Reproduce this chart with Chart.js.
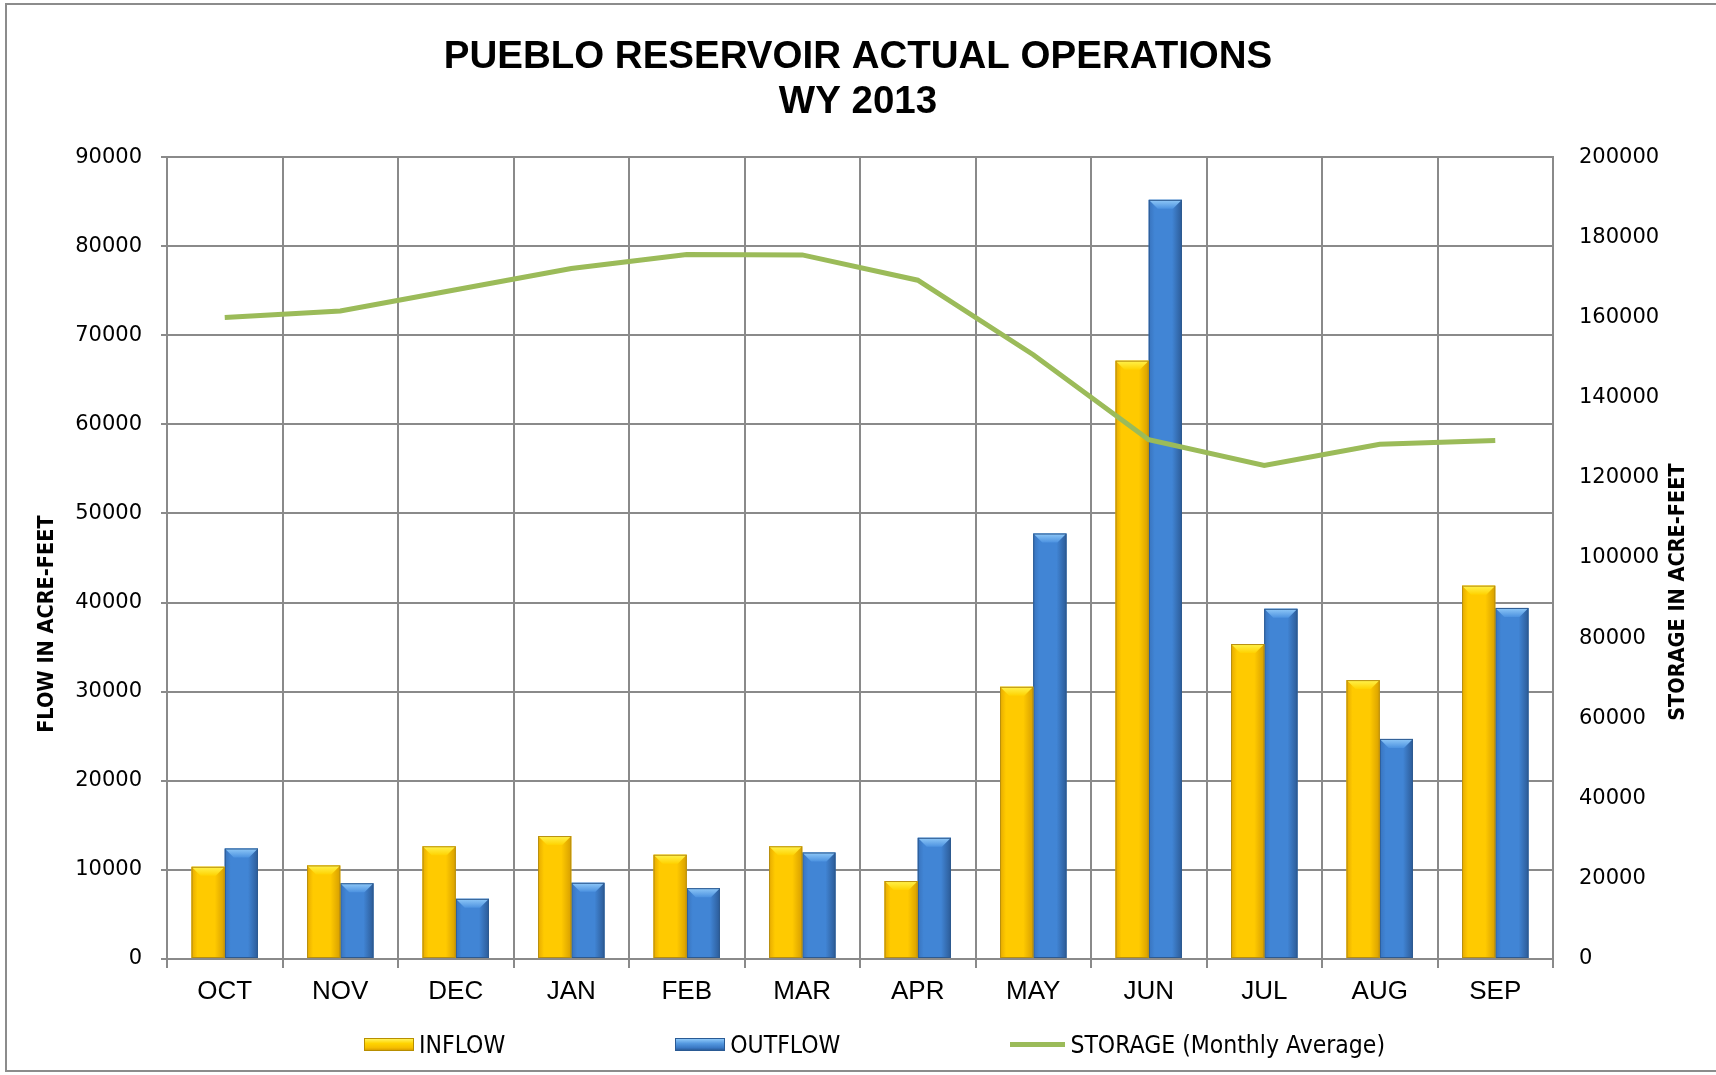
<!DOCTYPE html>
<html>
<head>
<meta charset="utf-8">
<title>Pueblo Reservoir Actual Operations WY 2013</title>
<script src="https://cdn.jsdelivr.net/npm/chart.js@4.4.1/dist/chart.umd.min.js"></script>
<style>
  html, body { margin: 0; padding: 0; background: #fff; }
  #wrap { position: relative; width: 1716px; height: 1075px; overflow: hidden; }
  #frame {
    position: absolute; left: 5px; top: 3px; width: 1730px; height: 1069px;
    border: 2px solid #8c8c8c; box-sizing: border-box; pointer-events: none;
  }
  #ops-chart { position: absolute; left: 0; top: 0; }
  #legend {
    position: absolute; left: 364px; top: 1030px; display: flex; align-items: center;
    font-family: 'Liberation Sans Narrow', 'DejaVu Sans Condensed', sans-serif;
    font-size: 24.5px; color: #000;
  }
  .legend-item { display: flex; align-items: center; margin-right: 170px; }
  .swatch { width: 50px; height: 13px; margin-right: 5px; box-sizing: border-box; }
  .swatch.inflow {
    border: 1px solid #b78e00;
    background: linear-gradient(to bottom, #fff25a 0%, #ffd400 40%, #f5bd00 80%, #d9a000 100%);
  }
  .swatch.outflow {
    border: 1px solid #2a5a94;
    background: linear-gradient(to bottom, #8ec8f8 0%, #5599e0 40%, #3a78c4 80%, #2b5d9a 100%);
  }
  .swatch.storage { width: 55px; height: 5px; background: #9bbb59; }
</style>
</head>
<body>
<div id="wrap">
  <canvas id="ops-chart" width="1716" height="1075"></canvas>
  <div id="frame"></div>
  <div id="legend"></div>
</div>
<script>
const months = ['OCT', 'NOV', 'DEC', 'JAN', 'FEB', 'MAR', 'APR', 'MAY', 'JUN', 'JUL', 'AUG', 'SEP'];

// acre-feet per month
const inflow = [10350, 10500, 12650, 13800, 11700, 12650, 8750, 30550, 67150, 35350, 31300, 41900];
const outflow = [12400, 8500, 6750, 8550, 7950, 11950, 13600, 47750, 85200, 39300, 24700, 39400];

// monthly average storage, acre-feet
const storage = [160000, 161600, 166900, 172200, 175700, 175600, 169300, 150700, 129500, 123100, 128400, 129300];

const flowTicks = { min: 0, max: 90000, step: 10000 };
const storageTicks = { min: 0, max: 200000, step: 20000 };

const gridColor = '#8a8a8a';
const narrowFont = '"Liberation Sans Narrow", "DejaVu Sans Condensed", sans-serif';

// shading for the two bar series, by dataset index
const barLook = [
  { edge: '#e6aa00', mid: '#ffca00', dark: '#d79f00', bevelTop: '#fff34f', bevelBottom: '#ffd200', border: '#b88f10' },
  { edge: '#3873bd', mid: '#4185d5', dark: '#2c5b97', bevelTop: '#90c9f8', bevelBottom: '#4c92e0', border: '#2d5a90' }
];

const barShading = {
  id: 'barShading',
  afterDatasetDraw(chart, args) {
    const meta = args.meta;
    if (meta.type !== 'bar') return;
    const look = barLook[args.index];
    const ctx = chart.ctx;
    ctx.save();
    meta.data.forEach(bar => {
      const { x, y, base, width } = bar.getProps(['x', 'y', 'base', 'width'], true);
      const left = x - width / 2;
      const top = Math.min(y, base);
      const h = Math.abs(base - y);

      const g = ctx.createLinearGradient(left, 0, left + width, 0);
      g.addColorStop(0, look.edge);
      g.addColorStop(0.18, look.mid);
      g.addColorStop(0.7, look.mid);
      g.addColorStop(1, look.dark);
      ctx.fillStyle = g;
      ctx.fillRect(left, top, width, h);

      // bevelled top
      const b = Math.min(9, h / 2);
      const bg = ctx.createLinearGradient(0, top, 0, top + b);
      bg.addColorStop(0, look.bevelTop);
      bg.addColorStop(1, look.bevelBottom);
      ctx.fillStyle = bg;
      ctx.beginPath();
      ctx.moveTo(left, top);
      ctx.lineTo(left + width, top);
      ctx.lineTo(left + width - b, top + b);
      ctx.lineTo(left + b, top + b);
      ctx.closePath();
      ctx.fill();

      ctx.strokeStyle = look.border;
      ctx.lineWidth = 1;
      ctx.strokeRect(left + 0.5, top + 0.5, width - 1, h - 1);
    });
    ctx.restore();
  }
};

// rotated axis titles, placed a little below the middle like the original sheet
const axisTitles = {
  id: 'axisTitles',
  afterDraw(chart) {
    const { ctx, chartArea } = chart;
    ctx.save();
    ctx.font = 'bold 21.5px ' + narrowFont;
    ctx.fillStyle = '#000';
    ctx.textAlign = 'center';
    ctx.textBaseline = 'middle';

    ctx.save();
    ctx.translate(chartArea.left - 120, chartArea.top + 467);
    ctx.rotate(-Math.PI / 2);
    ctx.fillText('FLOW IN ACRE-FEET', 0, 0);
    ctx.restore();

    ctx.save();
    ctx.translate(chartArea.right + 125, chartArea.top + 435);
    ctx.rotate(-Math.PI / 2);
    ctx.fillText('STORAGE IN ACRE-FEET', 0, 0);
    ctx.restore();

    ctx.restore();
  }
};

const ctx = document.getElementById('ops-chart').getContext('2d');
const chart = new Chart(ctx, {
  data: {
    labels: months,
    datasets: [
      {
        type: 'bar',
        label: 'INFLOW',
        data: inflow,
        yAxisID: 'y',
        backgroundColor: '#ffca00',
        barPercentage: 1,
        categoryPercentage: 0.575,
        order: 1
      },
      {
        type: 'bar',
        label: 'OUTFLOW',
        data: outflow,
        yAxisID: 'y',
        backgroundColor: '#4185d5',
        barPercentage: 1,
        categoryPercentage: 0.575,
        order: 1
      },
      {
        type: 'line',
        label: 'STORAGE (Monthly Average)',
        data: storage,
        yAxisID: 'y1',
        borderColor: '#9bbb59',
        backgroundColor: '#9bbb59',
        borderWidth: 5,
        pointRadius: 0,
        tension: 0,
        fill: false,
        order: 0
      }
    ]
  },
  options: {
    responsive: false,
    animation: false,
    layout: { padding: 0 },
    plugins: {
      legend: { display: false },
      tooltip: { enabled: false },
      title: {
        display: true,
        text: ['PUEBLO RESERVOIR ACTUAL OPERATIONS', 'WY 2013'],
        color: '#000',
        font: { family: '"Liberation Sans", Arial, sans-serif', size: 38.5, weight: 'bold', lineHeight: 1.17 },
        padding: { top: 35, bottom: 32 }
      }
    },
    scales: {
      x: {
        grid: { color: gridColor, lineWidth: 2, tickLength: 9, offset: true },
        border: { color: gridColor, width: 2 },
        ticks: {
          color: '#000',
          padding: 8,
          font: { family: '"Liberation Sans", Arial, sans-serif', size: 26 }
        },
        afterFit(scale) { scale.height = 116; }
      },
      y: {
        position: 'left',
        min: flowTicks.min,
        max: flowTicks.max,
        grid: { color: gridColor, lineWidth: 2, tickLength: 6 },
        border: { color: gridColor, width: 2 },
        ticks: {
          stepSize: flowTicks.step,
          color: '#000',
          padding: 19,
          font: { family: '"DejaVu Sans", Verdana, sans-serif', size: 21 },
          callback: value => String(value)
        },
        afterFit(scale) { scale.width = 167; }
      },
      y1: {
        position: 'right',
        min: storageTicks.min,
        max: storageTicks.max,
        grid: { drawOnChartArea: false, drawTicks: false },
        border: { color: gridColor, width: 2 },
        ticks: {
          stepSize: storageTicks.step,
          color: '#000',
          padding: 26,
          font: { family: '"DejaVu Sans", Verdana, sans-serif', size: 21 },
          callback: value => String(value)
        },
        afterFit(scale) { scale.width = 163; }
      }
    }
  },
  plugins: [barShading, axisTitles]
});

// legend below the plot, built from the datasets
const legendEl = document.getElementById('legend');
const swatchClass = ['inflow', 'outflow', 'storage'];
chart.data.datasets.forEach((ds, i) => {
  const item = document.createElement('div');
  item.className = 'legend-item';
  const sw = document.createElement('span');
  sw.className = 'swatch ' + swatchClass[i];
  const txt = document.createElement('span');
  txt.textContent = ds.label;
  item.appendChild(sw);
  item.appendChild(txt);
  legendEl.appendChild(item);
});
</script>
</body>
</html>
